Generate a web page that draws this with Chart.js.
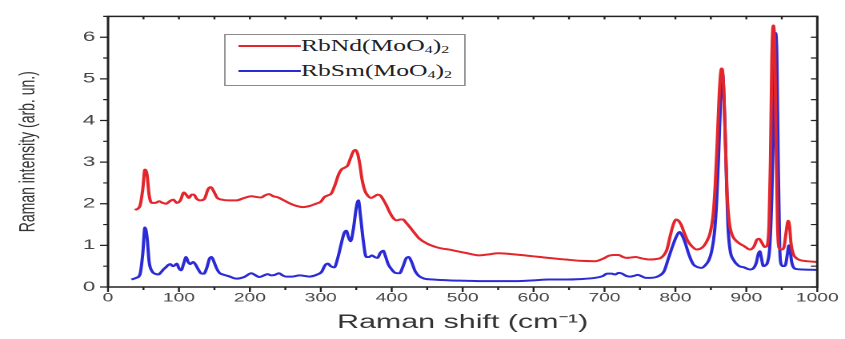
<!DOCTYPE html>
<html>
<head>
<meta charset="utf-8">
<script src="https://cdn.jsdelivr.net/npm/chart.js@4.4.0/dist/chart.umd.min.js"></script>
<style>
html, body { margin: 0; padding: 0; background: #fff; overflow: hidden; }
/* the original figure is stretched sideways, so draw narrow and stretch */
#wrap { position: relative; width: 528px; height: 339px; transform: scaleX(1.6004); transform-origin: 0 0; }
#legend { position: absolute; left: 140px; top: 34px; width: 151px; height: 52px; box-sizing: border-box;
          border: 1px solid #8a8a8a; background: #fff; font-family: "Liberation Serif", "Times New Roman", serif;
          font-size: 16px; color: #222; }
.row { position: absolute; left: 8px; height: 20px; display: flex; align-items: center; white-space: nowrap; }
.row i { display: inline-block; width: 39px; height: 1.6px; }
sub { font-size: 10px; position: relative; top: 4px; vertical-align: baseline; line-height: 0; }
</style>
</head>
<body>
<div id="wrap">
  <canvas id="chart" width="528" height="339"></canvas>
  <div id="legend">
    <div class="row" style="top:1px"><i style="background:#e3262b"></i>RbNd(MoO<sub>4</sub>)<sub>2</sub></div>
    <div class="row" style="top:26px"><i style="background:#2b2bd6"></i>RbSm(MoO<sub>4</sub>)<sub>2</sub></div>
  </div>
</div>
<script>
const xTicks = [0, 100, 200, 300, 400, 500, 600, 700, 800, 900, 1000];
const yTicks = [0, 1, 2, 3, 4, 5, 6];

// RbNd(MoO4)2 - red
const ndShift = [38, 45, 49, 52, 55, 58, 62, 67, 72, 77, 82, 87, 92, 97, 102, 107, 111, 114, 118, 121,
  125, 130, 136, 141, 145, 149, 154, 160, 170, 181, 192, 202, 210, 216, 221, 227, 233, 240, 248, 256,
  265, 275, 285, 293, 300, 305, 310, 315, 320, 325, 329, 334, 338, 342, 346, 349, 352, 355, 358, 362,
  366, 371, 376, 380, 384, 388, 392, 397, 402, 407, 412, 416, 420, 425, 432, 439, 450, 462, 472, 481,
  492, 504, 515, 523, 535, 551, 575, 598, 620, 645, 665, 687, 698, 706, 713, 720, 726, 731, 738, 744,
  752, 762, 772, 781, 788, 793, 797, 801, 804, 808, 812, 817, 822, 830, 838, 844, 849, 853, 856, 859,
  862, 865, 867, 869, 871, 873, 876, 880, 885, 890, 897, 905, 911, 915, 918, 922, 926, 929, 932, 934,
  936, 938, 940, 942, 944, 946, 950, 953, 956, 959, 961, 963, 966, 970, 975, 985, 1000];
const ndIntensity = [1.85, 1.95, 2.35, 2.82, 2.7, 2.2, 2.02, 2.02, 2.06, 2.02, 2.0, 2.06, 2.1, 2.02, 2.08, 2.27, 2.2, 2.14, 2.22, 2.22,
  2.12, 2.08, 2.12, 2.35, 2.4, 2.3, 2.14, 2.1, 2.08, 2.08, 2.14, 2.18, 2.16, 2.15, 2.2, 2.23, 2.18, 2.15, 2.08, 2.01,
  1.95, 1.92, 1.95, 2.0, 2.05, 2.16, 2.2, 2.25, 2.45, 2.7, 2.82, 2.87, 2.92, 3.1, 3.26, 3.29, 3.2, 2.95, 2.6, 2.32,
  2.2, 2.14, 2.18, 2.22, 2.2, 2.1, 1.98, 1.8, 1.66, 1.6, 1.62, 1.62, 1.55, 1.45, 1.3, 1.16, 1.04, 0.96, 0.92, 0.9,
  0.86, 0.82, 0.78, 0.76, 0.78, 0.81, 0.78, 0.74, 0.7, 0.66, 0.63, 0.62, 0.68, 0.75, 0.77, 0.77, 0.72, 0.7, 0.71, 0.72,
  0.69, 0.66, 0.67, 0.72, 0.9, 1.25, 1.5, 1.62, 1.6, 1.5, 1.32, 1.12, 1.0, 0.9, 0.95, 1.09, 1.3, 1.7, 2.4, 3.5,
  4.7, 5.25, 5.1, 4.3, 3.2, 2.2, 1.55, 1.25, 1.12, 1.05, 0.98, 0.9, 0.98, 1.14, 1.16, 1.06, 0.96, 0.98, 1.5, 3.0,
  5.5, 6.28, 5.8, 3.5, 1.5, 0.95, 0.9, 0.95, 1.3, 1.59, 1.45, 1.05, 0.8, 0.7, 0.65, 0.62, 0.6];

// RbSm(MoO4)2 - blue
const smShift = [33, 40, 45, 49, 52, 55, 58, 62, 66, 71, 75, 78, 82, 85, 88, 91, 94, 97, 100, 103,
  107, 110, 113, 116, 120, 123, 127, 131, 135, 139, 143, 146, 149, 153, 157, 162, 170, 181, 192, 202,
  208, 213, 220, 225, 230, 235, 241, 246, 251, 260, 270, 284, 295, 301, 306, 310, 314, 319, 324, 329,
  333, 336, 339, 342, 346, 350, 353, 356, 360, 364, 368, 372, 376, 380, 384, 388, 391, 395, 400, 405,
  411, 416, 420, 424, 428, 433, 438, 446, 458, 481, 504, 528, 550, 575, 600, 622, 645, 665, 687, 697,
  704, 710, 715, 720, 725, 730, 736, 742, 747, 752, 758, 765, 776, 784, 790, 796, 801, 806, 810, 814,
  819, 825, 831, 837, 842, 847, 851, 855, 858, 861, 864, 866, 868, 870, 872, 874, 877, 882, 889, 897,
  905, 910, 914, 917, 919, 921, 924, 927, 930, 933, 936, 939, 941, 943, 945, 947, 949, 952, 955, 958,
  960, 962, 964, 967, 971, 980, 1000];
const smIntensity = [0.18, 0.22, 0.3, 0.8, 1.43, 1.2, 0.6, 0.38, 0.32, 0.3, 0.36, 0.42, 0.48, 0.53, 0.55, 0.5, 0.52, 0.56, 0.45, 0.4,
  0.58, 0.72, 0.6, 0.55, 0.6, 0.55, 0.43, 0.33, 0.32, 0.45, 0.68, 0.72, 0.62, 0.45, 0.34, 0.3, 0.26, 0.2, 0.24, 0.33,
  0.28, 0.24, 0.28, 0.31, 0.28, 0.29, 0.33, 0.28, 0.25, 0.25, 0.28, 0.25, 0.3, 0.36, 0.52, 0.56, 0.5, 0.47, 0.7, 1.05,
  1.3, 1.35, 1.2, 1.1, 1.4, 1.9, 2.08, 1.7, 1.1, 0.72, 0.72, 0.76, 0.72, 0.7, 0.82, 0.87, 0.75, 0.55, 0.42, 0.34,
  0.33, 0.5, 0.68, 0.72, 0.6, 0.38, 0.27, 0.2, 0.18, 0.16, 0.15, 0.14, 0.14, 0.14, 0.16, 0.18, 0.18, 0.19, 0.22, 0.26,
  0.32, 0.32, 0.3, 0.34, 0.32, 0.27, 0.25, 0.27, 0.29, 0.26, 0.22, 0.22, 0.26, 0.38, 0.68, 0.98, 1.2, 1.32, 1.22, 1.05,
  0.78, 0.55, 0.48, 0.46, 0.52, 0.64, 0.85, 1.3, 2.0, 3.2, 4.6, 5.15, 4.8, 3.8, 2.6, 1.5, 0.9, 0.65, 0.51, 0.47,
  0.42, 0.45, 0.58, 0.8, 0.86, 0.72, 0.5, 0.52, 0.6, 0.95, 2.2, 4.5, 6.1, 5.6, 3.0, 1.0, 0.55, 0.5, 0.52, 0.8,
  1.0, 0.85, 0.6, 0.46, 0.43, 0.42, 0.41];

const toPoints = (xs, ys) => xs.map((x, i) => ({ x, y: ys[i] }));

const labelFont = "'Liberation Sans', Arial, sans-serif";

// axis frame with Origin-style ticks (outer on left/bottom, inner on top/right)
const framePlugin = {
    id: "frame",
    afterDraw(chart) {
        const { ctx, chartArea: { left, right, top, bottom }, scales: { x, y } } = chart;
        ctx.save();
        ctx.strokeStyle = "#222";
        ctx.lineWidth = 1.5;
        ctx.strokeRect(left, top, right - left, bottom - top);
        ctx.lineWidth = 1.2;
        ctx.beginPath();
        for (let v = 0; v <= 1000; v += 50) {
            const px = x.getPixelForValue(v);
            const major = v % 100 === 0;
            ctx.moveTo(px, bottom);
            ctx.lineTo(px, bottom + (major ? 5 : 3));
            ctx.moveTo(px, top);
            ctx.lineTo(px, top + 3);
        }
        for (let v = 0; v <= 6.5; v += 0.5) {
            const py = y.getPixelForValue(v);
            const major = v % 1 === 0;
            ctx.moveTo(left, py);
            ctx.lineTo(left - (major ? 5 : 3), py);
            ctx.moveTo(right, py);
            ctx.lineTo(right - 4, py);
        }
        ctx.stroke();
        ctx.restore();
    }
};

const ctx = document.getElementById("chart").getContext("2d");
new Chart(ctx, {
    type: "line",
    data: {
        datasets: [
            {
                label: "RbNd(MoO4)2",
                data: toPoints(ndShift, ndIntensity),
                borderColor: "#e3262b",
                borderWidth: 2,
                pointRadius: 0,
                fill: false,
                cubicInterpolationMode: "monotone"
            },
            {
                label: "RbSm(MoO4)2",
                data: toPoints(smShift, smIntensity),
                borderColor: "#2b2bd6",
                borderWidth: 2,
                pointRadius: 0,
                fill: false,
                cubicInterpolationMode: "monotone"
            }
        ]
    },
    options: {
        responsive: false,
        animation: false,
        devicePixelRatio: 2,
        layout: { padding: { top: 6, right: 16, left: 0, bottom: 0 } },
        plugins: { legend: { display: false }, tooltip: { enabled: false } },
        scales: {
            x: {
                type: "linear",
                min: 0,
                max: 1000,
                afterBuildTicks: s => { s.ticks = xTicks.map(v => ({ value: v })); },
                afterFit: s => { s.height = 52; },
                grid: { display: false, drawTicks: false },
                border: { display: false },
                ticks: { padding: 4, maxRotation: 0, autoSkip: false, color: "#444",
                         callback: v => String(v),
                         font: { family: labelFont, size: 12 } },
                title: { display: true, text: "Raman shift (cm\u207B\u00B9)", color: "#333",
                         font: { family: labelFont, size: 19 }, padding: { top: 0, bottom: 5 } }
            },
            y: {
                min: 0,
                max: 6.5,
                afterBuildTicks: s => { s.ticks = yTicks.map(v => ({ value: v })); },
                afterFit: s => { s.width = 67.5; },
                grid: { display: false, drawTicks: false },
                border: { display: false },
                ticks: { padding: 8, color: "#444", callback: v => String(v),
                         font: { family: labelFont, size: 14 } },
                title: { display: true, text: "Raman intensity (arb. un.)", color: "#333",
                         font: { family: labelFont, size: 14 }, padding: { top: 9, bottom: 0 } }
            }
        }
    },
    plugins: [framePlugin]
});
</script>
</body>
</html>
